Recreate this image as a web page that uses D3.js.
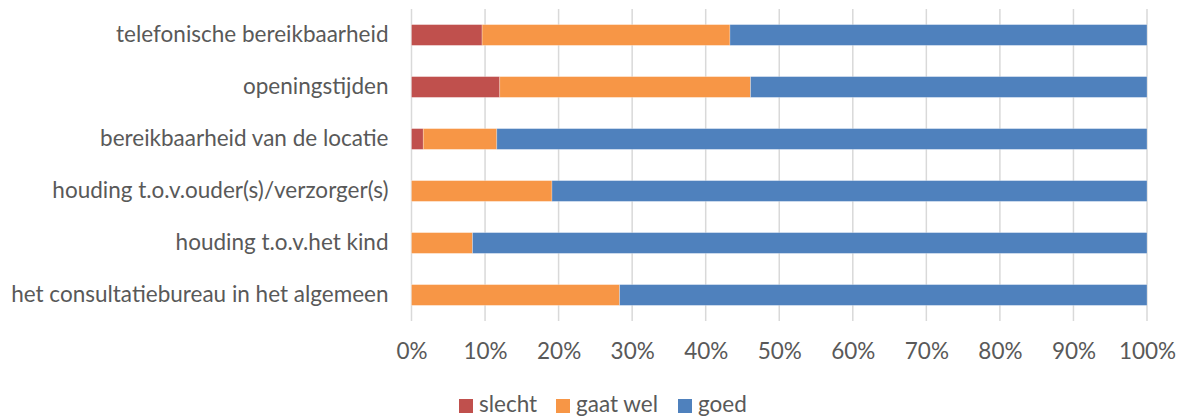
<!DOCTYPE html>
<html>
<head>
<meta charset="utf-8">
<script src="https://cdn.jsdelivr.net/npm/d3@7"></script>
<style>
  body { margin: 0; background: #fff; }
  text { font-family: "Lato", "Open Sans", sans-serif; fill: #595959; }
</style>
</head>
<body>
<div id="chart"></div>
<script>
"use strict"

// categories, top to bottom
let categories = [
  "telefonische bereikbaarheid",
  "openingstijden",
  "bereikbaarheid van de locatie",
  "houding t.o.v.ouder(s)/verzorger(s)",
  "houding t.o.v.het kind",
  "het consultatiebureau in het algemeen"
];

let seriesNames = ["slecht", "gaat wel", "goed"];
let seriesColors = ["#C0504D", "#F79646", "#4F81BD"];

// percentages per category
let slecht = [9.6, 12.0, 1.6, 0, 0, 0];
let gaatWel = [33.7, 34.1, 10.0, 19.1, 8.3, 28.3];
let goed = [56.7, 53.9, 88.4, 80.9, 91.7, 71.7];

let tickValues = [0, 10, 20, 30, 40, 50, 60, 70, 80, 90, 100];

let width = 1180;
let height = 417;
let margin = {top: 9, right: 33, bottom: 96, left: 411.5};
let fontSize = "22.5px";

let svg = d3.select("#chart")
  .append("svg")
  .attr("width", width)
  .attr("height", height);

let rows = categories.map((c, i) => ({
  cat: c, "slecht": slecht[i], "gaat wel": gaatWel[i], "goed": goed[i]
}));

let stacked = d3.stack().keys(seriesNames)(rows);

let x = d3.scaleLinear()
  .domain([0, 100])
  .range([margin.left, width - margin.right]);

let y = d3.scaleBand()
  .domain(categories)
  .range([margin.top, height - margin.bottom])
  .paddingInner(0.6)
  .paddingOuter(0.3);

// gridlines
svg.append("g")
  .selectAll("line")
  .data(tickValues)
  .join("line")
  .attr("x1", d => x(d))
  .attr("x2", d => x(d))
  .attr("y1", margin.top)
  .attr("y2", height - margin.bottom)
  .attr("stroke", "#D9D9D9")
  .attr("stroke-width", 1.5);

// bars
svg.append("g")
  .selectAll("g")
  .data(stacked)
  .join("g")
  .attr("fill", (d, i) => seriesColors[i])
  .selectAll("rect")
  .data(d => d)
  .join("rect")
  .attr("x", d => x(d[0]))
  .attr("y", d => y(d.data.cat))
  .attr("width", d => x(d[1]) - x(d[0]))
  .attr("height", y.bandwidth())
  .attr("stroke", "#ffffff")
  .attr("stroke-opacity", 0.35)
  .attr("stroke-width", 0.75);

// category labels
let yAxis = svg.append("g")
  .attr("transform", `translate(${margin.left},0)`)
  .call(d3.axisLeft(y).tickSize(0).tickPadding(23));
yAxis.select(".domain").remove();
yAxis.selectAll("text")
  .style("font-size", fontSize)
  .style("font-family", "Lato, 'Open Sans', sans-serif")
  .attr("fill", "#595959");

// x tick labels
let xAxis = svg.append("g")
  .attr("transform", `translate(0,${height - margin.bottom})`)
  .call(d3.axisBottom(x).tickValues(tickValues).tickSize(0).tickPadding(22)
    .tickFormat(d => d + "%"));
xAxis.select(".domain").remove();
xAxis.selectAll("text")
  .style("font-size", fontSize)
  .style("font-family", "Lato, 'Open Sans', sans-serif")
  .attr("fill", "#595959");

// legend
let legendX = [459, 556, 678];
let legend = svg.append("g");
let item = legend.selectAll("g")
  .data(seriesNames)
  .join("g")
  .attr("transform", (d, i) => `translate(${legendX[i]},399)`);
item.append("rect")
  .attr("width", 14)
  .attr("height", 14)
  .attr("fill", (d, i) => seriesColors[i]);
item.append("text")
  .attr("x", 20)
  .attr("y", 13)
  .style("font-size", fontSize)
  .text(d => d);
</script>
</body>
</html>
